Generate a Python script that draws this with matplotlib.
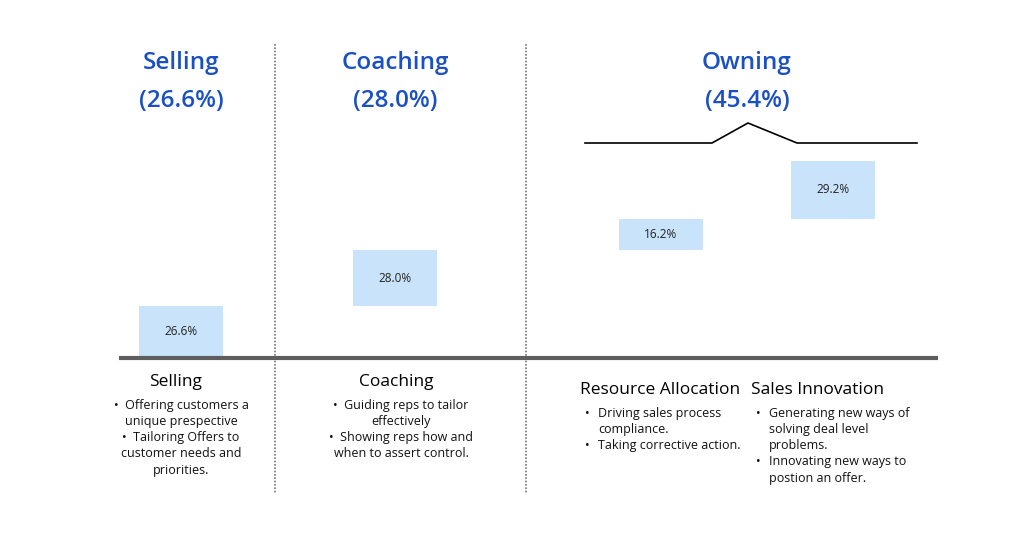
import matplotlib.pyplot as plt

plt.rcParams['font.family'] = ['Open Sans', 'DejaVu Sans']

groups = ['Selling', 'Coaching', 'Owning']
group_pct = [26.6, 28.0, 45.4]
categories = ['Selling', 'Coaching', 'Resource Allocation', 'Sales Innovation']
values = [26.6, 28.0, 16.2, 29.2]
bullets = [
    ['•  Offering customers a', 'unique prespective', '•  Tailoring Offers to',
     'customer needs and', 'priorities.'],
    ['•  Guiding reps to tailor', 'effectively', '•  Showing reps how and',
     'when to assert control.'],
    [('•', 'Driving sales process'), ('', 'compliance.'),
     ('•', 'Taking corrective action.')],
    [('•', 'Generating new ways of'), ('', 'solving deal level'), ('', 'problems.'),
     ('•', 'Innovating new ways to'), ('', 'postion an offer.')],
]

W, H = 1024, 538
fig = plt.figure(figsize=(W / 100, H / 100), dpi=100)

# data axes: y=0 at pixel 358, y=100 at pixel 161
base_px, top_px = 358, 161
ax = fig.add_axes([0, (H - base_px) / H, 1, (base_px - top_px) / H])
ax.set_xlim(0, W)
ax.set_ylim(0, 100)
ax.axis('off')

centers = [181, 395, 661, 833]
bottoms = []
acc = 0
for v in values:
    bottoms.append(acc)
    acc += v
ax.bar(centers, values, bottom=bottoms, width=84, color='#c8e3fa', zorder=2)
for c, v, b in zip(centers, values, bottoms):
    ax.text(c, b + v / 2, f'{v:.1f}%', ha='center', va='center', fontsize=8.5,
            color='#222222', zorder=3)

# overlay in pixel coordinates
ov = fig.add_axes([0, 0, 1, 1], facecolor='none')
ov.set_xlim(0, W)
ov.set_ylim(H, 0)
ov.axis('off')

blue = '#1b50c4'
for g, p, x in zip(groups, group_pct, [181, 395, 747]):
    ov.text(x, 63, g, ha='center', va='center', fontsize=17.5, color=blue,
            fontweight='semibold')
    ov.text(x, 101, f'({p:.1f}%)', ha='center', va='center', fontsize=17.5,
            color=blue, fontweight='semibold')

for x in [275, 526]:
    ov.plot([x, x], [44, 494], color='#777777', lw=1.2, ls=(0, (1, 1)))

ov.plot([119, 938], [358, 358], color='#5e5e5e', lw=3, solid_capstyle='butt')

ov.plot([585, 712, 748, 797, 917], [143, 143, 123, 143, 143], color='black', lw=1.2)

# centred label blocks
for name, lines, x in zip(categories[:2], bullets[:2], [176, 396]):
    ov.text(x, 382, name, ha='center', va='center', fontsize=12.5, color='black')
    for i, ln in enumerate(lines):
        ov.text(x + 5, 405 + i * 16.3, ln, ha='center', va='center', fontsize=9,
                color='#111111')

# left aligned label blocks
for name, lines, x in zip(categories[2:], bullets[2:], [580, 751]):
    ov.text(x, 390, name, ha='left', va='center', fontsize=12.5, color='black')
    for i, (b, ln) in enumerate(lines):
        y = 413 + i * 16.3
        if b:
            ov.text(x + 7, y, b, ha='center', va='center', fontsize=9, color='#111111')
        ov.text(x + 18, y, ln, ha='left', va='center', fontsize=9, color='#111111')

fig.savefig('out.png', dpi=100)
